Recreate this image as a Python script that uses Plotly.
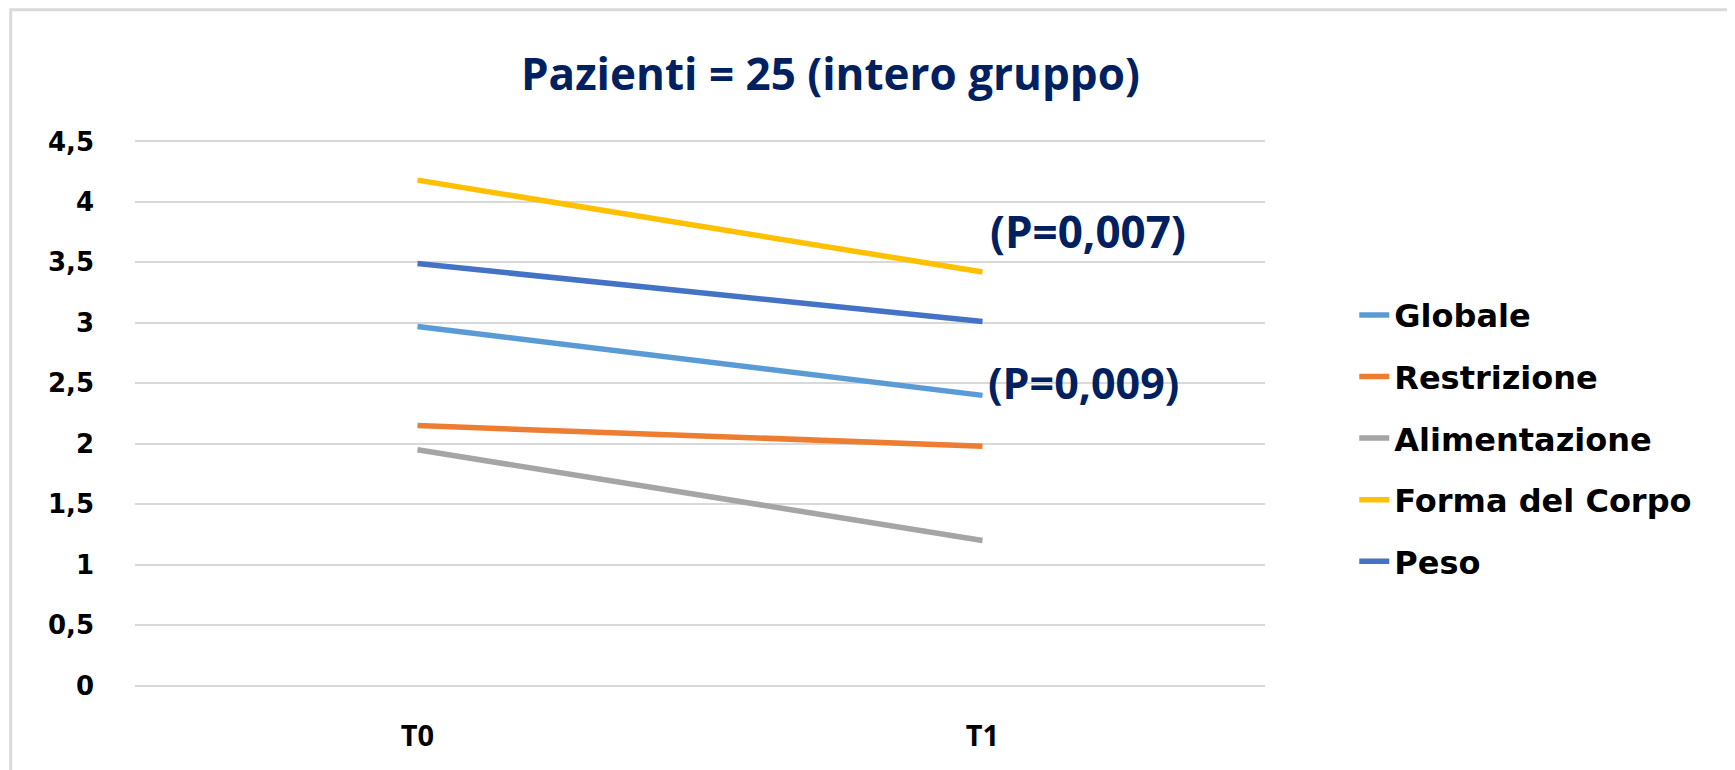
import plotly.graph_objects as go

# Time points
periods = ["T0", "T1"]

# Mean scores per subscale
globale = [2.97, 2.40]
restrizione = [2.15, 1.98]
alimentazione = [1.95, 1.20]
forma_corpo = [4.18, 3.42]
peso = [3.49, 3.01]

series_names = ["Globale", "Restrizione", "Alimentazione", "Forma del Corpo", "Peso"]
series_values = [globale, restrizione, alimentazione, forma_corpo, peso]
series_colors = ["#5B9BD5", "#ED7D31", "#A5A5A5", "#FFC000", "#4472C4"]

y_ticks = [0, 0.5, 1, 1.5, 2, 2.5, 3, 3.5, 4, 4.5]
y_ticklabels = ["0", "0,5", "1", "1,5", "2", "2,5", "3", "3,5", "4", "4,5"]

navy = "#002060"

fig = go.Figure()
for name, vals, color in zip(series_names, series_values, series_colors):
    fig.add_trace(
        go.Scatter(
            x=periods,
            y=vals,
            mode="lines",
            name=name,
            legendgroup=name,
            line=dict(color=color, width=5.5),
        )
    )

# p-value labels next to T1
fig.add_annotation(x="T1", y=3.76, text="<b>(P=0,007)</b>", showarrow=False,
                   xanchor="left", xshift=5, font=dict(family="Open Sans", size=44, color=navy))
fig.add_annotation(x="T1", y=2.51, text="<b>(P=0,009)</b>", showarrow=False,
                   xanchor="left", xshift=3, font=dict(family="Open Sans", size=43, color=navy))

# light frame around the chart
fig.add_shape(type="rect", xref="paper", yref="paper", x0=-0.110, x1=1.6, y0=-0.3, y1=1.238,
              line=dict(color="#D9D9D9", width=3), layer="below")

fig.update_layout(
    width=1735,
    height=770,
    paper_bgcolor="white",
    plot_bgcolor="white",
    margin=dict(l=127, r=478, t=132, b=91),
    title=dict(
        text="<b>Pazienti = 25 (intero gruppo)</b>",
        x=0.474, xanchor="center", y=0.914, yanchor="middle",
        font=dict(family="Open Sans", size=44, color=navy),
    ),
    xaxis=dict(
        showgrid=False,
        showline=False,
        zeroline=False,
        range=[-0.5, 1.5],
        tickfont=dict(family="Open Sans", size=29, color="black", weight="bold"),
        ticklabelstandoff=29,
        ticks="",
        automargin=False,
    ),
    yaxis=dict(
        range=[-0.012, 4.512],
        tickvals=y_ticks,
        ticktext=y_ticklabels,
        showgrid=True,
        gridcolor="#D9D9D9",
        gridwidth=2,
        zeroline=False,
        showline=False,
        tickfont=dict(family="DejaVu Sans", size=26, color="black", weight="bold"),
        ticklabelstandoff=40,
        ticks="",
        automargin=False,
    ),
    showlegend=True,
    legend=dict(
        x=1.079, xanchor="left",
        y=0.455, yanchor="middle",
        font=dict(family="DejaVu Sans", size=32, color="black", weight="bold"),
        tracegroupgap=17,
        bgcolor="rgba(0,0,0,0)",
    ),
)

fig.write_html("out.html")
